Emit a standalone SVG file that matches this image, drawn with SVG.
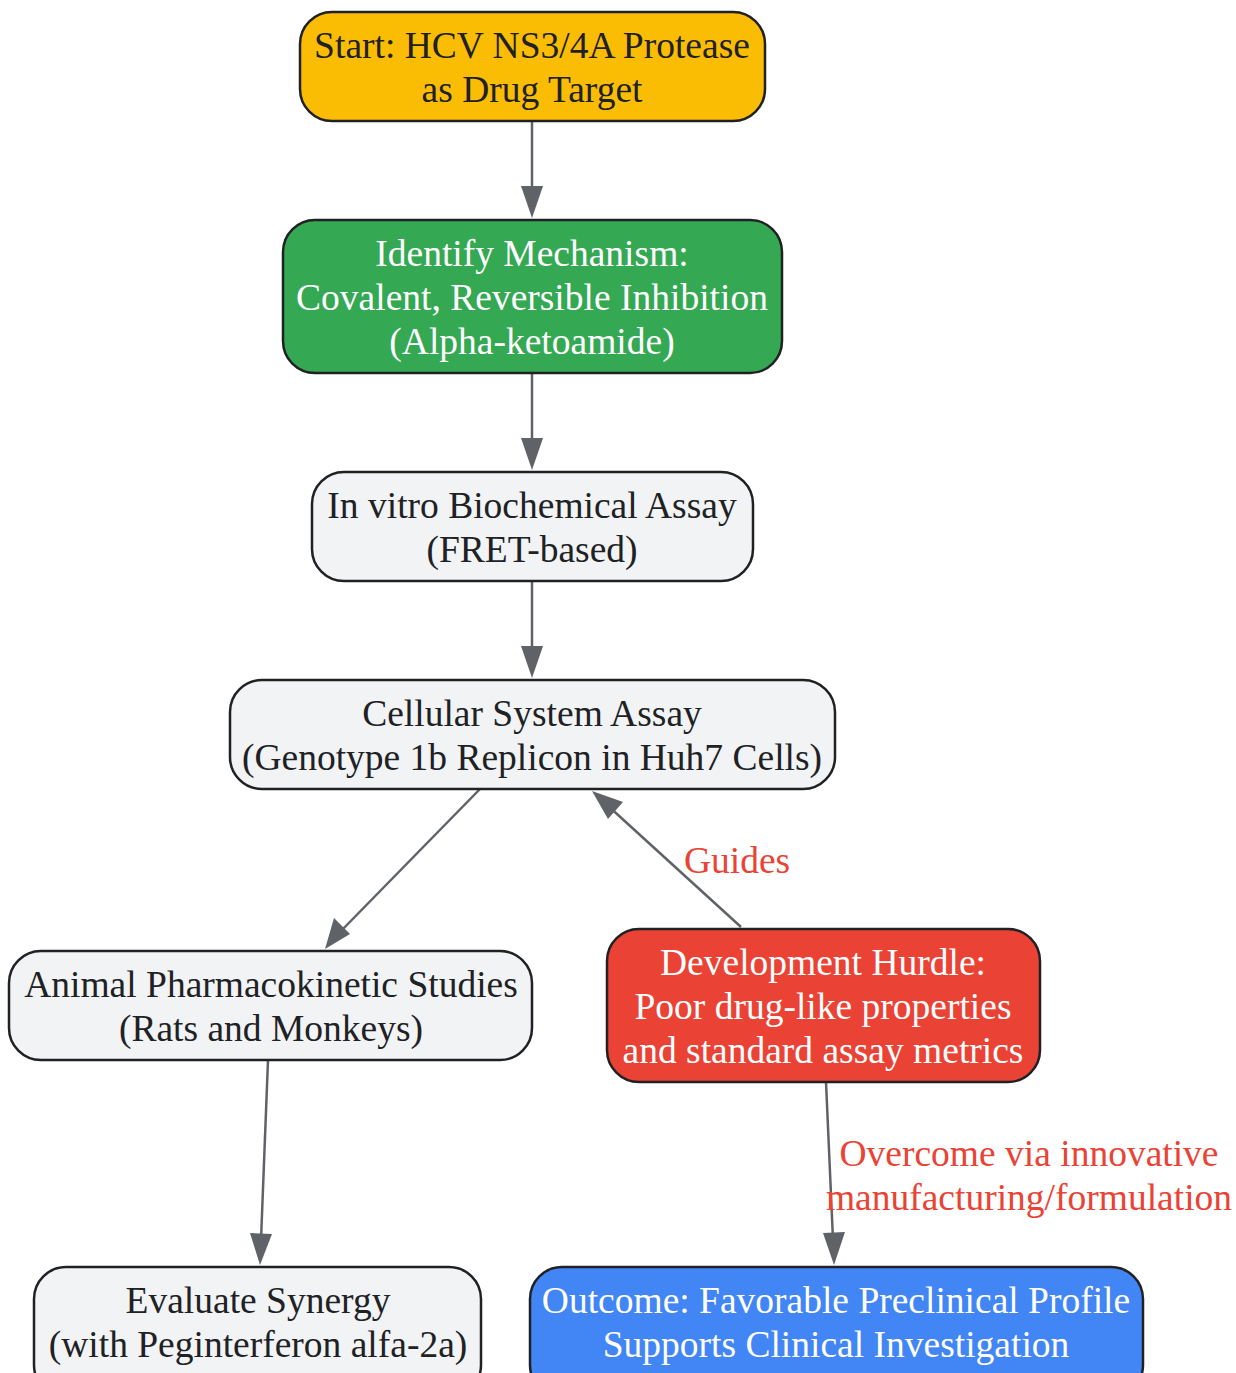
<svg xmlns="http://www.w3.org/2000/svg" width="1236" height="1373" viewBox="0 0 1236 1373">
<defs>
<style>
.n{stroke:#202124;stroke-width:2.5}
.t{font-family:"Liberation Serif","Times New Roman",serif;font-size:37.5px;text-anchor:middle}
.d{fill:#202124}
.w{fill:#ffffff}
.e{stroke:#5f6368;stroke-width:2.5;fill:none}
.a{fill:#5f6368}
.l{font-family:"Liberation Serif","Times New Roman",serif;font-size:37.5px;text-anchor:middle;fill:#EA4335}
</style>
</defs>
<rect width="1236" height="1373" fill="#ffffff"/>
<g id="connectors">
<path class="e" d="M532,121 L532,190"/>
<path class="a" d="M521,186 L543,186 L532,218 z"/>
<path class="e" d="M532,373 L532,440"/>
<path class="a" d="M521,438 L543,438 L532,470 z"/>
<path class="e" d="M532,581 L532,650"/>
<path class="a" d="M521,646 L543,646 L532,678 z"/>
<path class="e" d="M480,789 L340,932"/>
<path class="a" d="M325,949 L334,918 L350,934 z"/>
<path class="e" d="M741,927 L606,804"/>
<path class="a" d="M592,791 L623,802 L608,819 z"/>
<path class="e" d="M268,1060 L261,1240"/>
<path class="a" d="M260,1265 L250,1233 L272,1234 z"/>
<path class="e" d="M826,1082 L833,1240"/>
<path class="a" d="M834,1265 L823,1233 L845,1232 z"/>
<text class="l" x="737" y="873">Guides</text>
<text class="l" x="1029" y="1166">Overcome via innovative</text>
<text class="l" x="1029" y="1210">manufacturing/formulation</text>
</g>
<g id="start">
<rect class="n" x="300" y="12" width="465" height="109" rx="32" fill="#FBBC04"/>
<text class="t d" x="532" y="58">Start: HCV NS3/4A Protease</text>
<text class="t d" x="532" y="102">as Drug Target</text>
</g>
<g id="mechanism">
<rect class="n" x="283" y="220" width="499" height="153" rx="32" fill="#34A853"/>
<text class="t w" x="532" y="266">Identify Mechanism:</text>
<text class="t w" x="532" y="310">Covalent, Reversible Inhibition</text>
<text class="t w" x="532" y="354">(Alpha-ketoamide)</text>
</g>
<g id="invitro">
<rect class="n" x="312" y="472" width="441" height="109" rx="32" fill="#F1F3F4"/>
<text class="t d" x="532" y="518">In vitro Biochemical Assay</text>
<text class="t d" x="532" y="562">(FRET-based)</text>
</g>
<g id="cellular">
<rect class="n" x="230" y="680" width="605" height="109" rx="32" fill="#F1F3F4"/>
<text class="t d" x="532" y="726">Cellular System Assay</text>
<text class="t d" x="532" y="770">(Genotype 1b Replicon in Huh7 Cells)</text>
</g>
<g id="animal">
<rect class="n" x="9" y="951" width="523" height="109" rx="32" fill="#F1F3F4"/>
<text class="t d" x="271" y="997">Animal Pharmacokinetic Studies</text>
<text class="t d" x="271" y="1041">(Rats and Monkeys)</text>
</g>
<g id="hurdle">
<rect class="n" x="607" y="929" width="433" height="153" rx="32" fill="#EA4335"/>
<text class="t w" x="823" y="975">Development Hurdle:</text>
<text class="t w" x="823" y="1019">Poor drug-like properties</text>
<text class="t w" x="823" y="1063">and standard assay metrics</text>
</g>
<g id="synergy">
<rect class="n" x="34" y="1267" width="447" height="130" rx="32" fill="#F1F3F4"/>
<text class="t d" x="258" y="1313">Evaluate Synergy</text>
<text class="t d" x="258" y="1357">(with Peginterferon alfa-2a)</text>
</g>
<g id="outcome">
<rect class="n" x="530" y="1267" width="613" height="130" rx="32" fill="#4285F4"/>
<text class="t w" x="836" y="1313">Outcome: Favorable Preclinical Profile</text>
<text class="t w" x="836" y="1357">Supports Clinical Investigation</text>
</g>
</svg>
